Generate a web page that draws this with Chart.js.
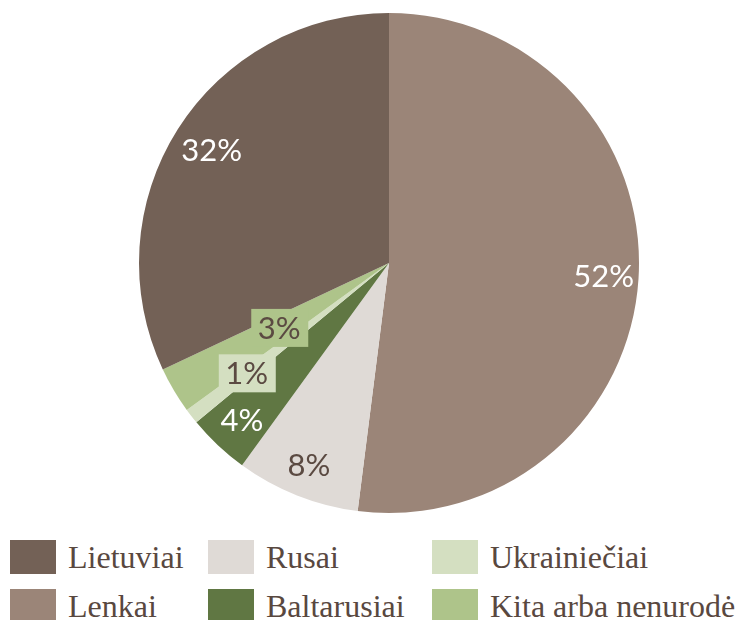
<!DOCTYPE html>
<html>
<head>
<meta charset="utf-8">
<script src="https://cdn.jsdelivr.net/npm/chart.js@4.4.0/dist/chart.umd.min.js"></script>
<style>
    html, body { margin: 0; padding: 0; background: #fff; width: 753px; height: 620px; overflow: hidden; }
    #wrap { position: relative; width: 753px; height: 526px; }
    #legend { position: absolute; left: 0; top: 540px; width: 753px; }
    .lg-item { position: absolute; display: flex; align-items: center; height: 34px;
        font-family: "Liberation Serif", "DejaVu Serif", serif; font-size: 32px; color: #59483f; white-space: nowrap; }
    .lg-box { width: 46px; height: 34px; margin-right: 12px; flex: none; }
</style>
</head>
<body>
<div id="wrap"><canvas id="pieChart"></canvas></div>
<div id="legend"></div>
<script>
    // data, in drawing order (clockwise from 12 o'clock)
    const groups = ['Lenkai', 'Rusai', 'Baltarusiai', 'Ukrainiečiai', 'Kita arba nenurodė', 'Lietuviai'];
    const shares = [52, 8, 4, 1, 3, 32];
    const sliceColors = ['#9b8578', '#dfdad6', '#607743', '#d4dfc1', '#aec48a', '#736156'];
    // legend reading order (Excel lays it out column by column)
    const legendOrder = ['Lietuviai', 'Rusai', 'Ukrainiečiai', 'Lenkai', 'Baltarusiai', 'Kita arba nenurodė'];

    // label look per slice: text colour, boxed or not, distance from centre (share of radius)
    const labelStyle = [
        { color: '#ffffff', box: false, r: 0.86 },
        { color: '#5b4a42', box: false, r: 0.87 },
        { color: '#ffffff', box: false, r: 0.86 },
        { color: '#5b4a42', box: true,  r: 0.72 },
        { color: '#5b4a42', box: true,  r: 0.51 },
        { color: '#ffffff', box: false, r: 0.84 }
    ];

    const sliceLabels = {
        id: 'sliceLabels',
        afterDatasetsDraw(chart) {
            const ctx = chart.ctx;
            const meta = chart.getDatasetMeta(0);
            ctx.save();
            ctx.font = '31px Lato, "Open Sans", sans-serif';
            ctx.textAlign = 'center';
            ctx.textBaseline = 'middle';
            meta.data.forEach(function (arc, i) {
                const st = labelStyle[i];
                const mid = (arc.startAngle + arc.endAngle) / 2;
                const x = arc.x + Math.cos(mid) * arc.outerRadius * st.r;
                const y = arc.y + Math.sin(mid) * arc.outerRadius * st.r;
                const text = shares[i] + '%';
                if (st.box) {
                    ctx.fillStyle = sliceColors[i];
                    ctx.fillRect(x - 28, y - 19, 57, 38);
                }
                ctx.fillStyle = st.color;
                ctx.fillText(text, x, y + 1);
            });
            ctx.restore();
        }
    };

    const chart = new Chart(document.getElementById('pieChart'), {
        type: 'pie',
        data: {
            labels: groups,
            datasets: [{
                data: shares,
                backgroundColor: sliceColors,
                borderWidth: 0
            }]
        },
        options: {
            responsive: true,
            maintainAspectRatio: false,
            animation: false,
            layout: { padding: { left: 25, top: 13, bottom: 13, right: 0 } },
            plugins: {
                legend: { display: false },
                tooltip: { enabled: false }
            }
        },
        plugins: [sliceLabels]
    });

    // html legend built from the chart's own legend items
    const colX = [10, 208, 432];
    const rowY = [0, 49];
    const legendDiv = document.getElementById('legend');
    const items = chart.options.plugins.legend.labels.generateLabels(chart);
    legendOrder.forEach(function (name, k) {
        const item = items.find(it => it.text === name);
        const el = document.createElement('div');
        el.className = 'lg-item';
        el.style.left = colX[k % 3] + 'px';
        el.style.top = rowY[Math.floor(k / 3)] + 'px';
        const box = document.createElement('span');
        box.className = 'lg-box';
        box.style.background = item.fillStyle;
        const label = document.createElement('span');
        label.textContent = item.text;
        el.appendChild(box);
        el.appendChild(label);
        legendDiv.appendChild(el);
    });
</script>
</body>
</html>
